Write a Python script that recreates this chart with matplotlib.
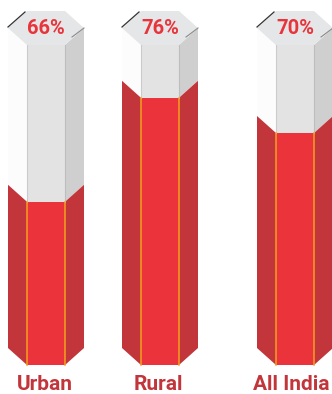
import numpy as np
import matplotlib
matplotlib.use('Agg')
import matplotlib.pyplot as plt

# data
labels = ['Urban', 'Rural', 'All India']
values = [66, 76, 70]                 # printed on the caps
fill_level = [0.51, 0.835, 0.725]     # share of the column body that is red

# column geometry (pixel units)
centers = [46, 160, 295]
label_x = [45, 158, 291]
hw, fw = 38, 19          # half width outer / front face
top_y, bot_y = 28, 348   # y of side corners at top and bottom
dy = 17                  # depth offset of the hexagon

red_front = '#ea333a'
red_side = '#c1353b'
orange = '#f5a01e'
fam = ['Roboto', 'DejaVu Sans']

fig = plt.figure(figsize=(3.32, 3.94), dpi=100)
ax = fig.add_axes([0, 0, 1, 1])
ax.set_xlim(0, 332)
ax.set_ylim(394, 0)
ax.axis('off')

for c, lx, lab, v, f in zip(centers, label_x, labels, values, fill_level):
    L, FL, FR, R = c - hw, c - fw, c + fw, c + hw
    front_top = top_y + dy
    front_bot = bot_y + dy
    fill_front = front_bot - f * (front_bot - front_top)
    fill_side = fill_front - dy

    # empty part of the column
    ax.fill([L, FL, FL, L], [top_y, front_top, fill_front, fill_side], color='#fcfcfc', lw=0)
    ax.fill([FL, FR, FR, FL], [front_top, front_top, fill_front, fill_front], color='#e3e3e4', lw=0)
    ax.fill([FR, R, R, FR], [front_top, top_y, fill_side, fill_front], color='#d0cfcf', lw=0)
    ax.plot([FL, FL], [front_top, fill_front], color='#cbcbcb', lw=0.8)
    ax.plot([FR, FR], [front_top, fill_front], color='#bdbdbd', lw=0.8)

    # red filled part
    ax.fill([L, FL, FL, L], [fill_side, fill_front, front_bot, bot_y], color=red_side, lw=0)
    ax.fill([FL, FR, FR, FL], [fill_front, fill_front, front_bot, front_bot], color=red_front, lw=0)
    ax.fill([FR, R, R, FR], [fill_front, fill_side, bot_y, front_bot], color=red_side, lw=0)
    ax.plot([FL, FL], [fill_front, front_bot], color=orange, lw=1.1)
    ax.plot([FR, FR], [fill_front, front_bot], color=orange, lw=1.1)

    # top cap
    ax.fill([L, FL, FR, R, FR, FL], [top_y, top_y - dy, top_y - dy, top_y, front_top, front_top],
            color='#e5e6e8', lw=0)
    ax.plot([L, FL - 2], [top_y - 1, top_y - dy + 1], color='#333333', lw=0.9)
    ax.plot([R, R - 12], [top_y, top_y + 9], color='#8a8a8a', lw=0.8)

    ax.text(c, top_y, f'{v}%', ha='center', va='center', color='#e8343b',
            fontsize=14.5, fontweight='bold', family=fam)
    ax.text(lx, 384, lab, ha='center', va='center', color='#c1353b',
            fontsize=15, fontweight='bold', family=fam)

fig.savefig('out.png', dpi=100)
